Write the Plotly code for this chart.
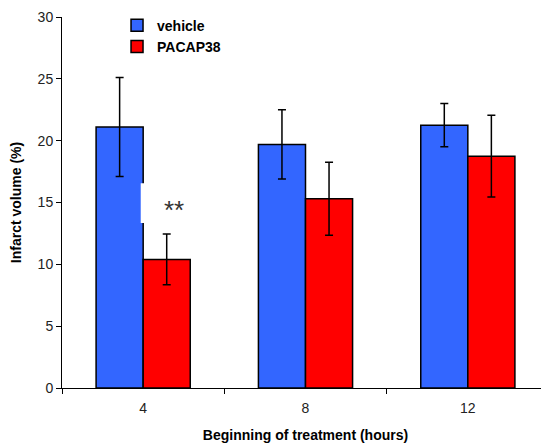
import plotly.graph_objects as go

categories = ["4", "8", "12"]
vehicle = [21.1, 19.7, 21.25]
vehicle_err = [4.0, 2.8, 1.75]
pacap = [10.4, 15.3, 18.75]
pacap_err = [2.05, 2.95, 3.3]

font = "Liberation Sans, Arial, sans-serif"

fig = go.Figure()
fig.add_trace(go.Bar(
    name="vehicle", x=categories, y=vehicle,
    marker=dict(color="#3366FF", line=dict(color="black", width=1.5)),
    error_y=dict(type="data", array=vehicle_err, color="black", thickness=1.5, width=4),
))
fig.add_trace(go.Bar(
    name="PACAP38", x=categories, y=pacap,
    marker=dict(color="#FF0000", line=dict(color="black", width=1.5)),
    error_y=dict(type="data", array=pacap_err, color="black", thickness=1.5, width=4),
))

# white box behind the significance marker
fig.add_shape(type="rect", xref="x", yref="y", x0=-0.015, x1=0.42, y0=13.35, y1=16.55,
              fillcolor="white", line=dict(width=0), layer="above")
fig.add_annotation(x=0.19, y=14.4, xref="x", yref="y", text="**", showarrow=False,
                   font=dict(family=font, size=26, color="#333"))

fig.update_layout(
    width=541, height=435,
    margin=dict(l=54, r=0, t=9, b=55, autoexpand=False),
    paper_bgcolor="white", plot_bgcolor="white",
    barmode="group", bargap=0.42, bargroupgap=0,
    font=dict(family=font, size=14, color="#222"),
    showlegend=True,
    legend=dict(x=0.113, y=1.02, xanchor="left", yanchor="top",
                font=dict(family=font, size=14, color="black", weight="bold"),
                bgcolor="rgba(0,0,0,0)", itemwidth=30, tracegroupgap=0),
)
fig.update_xaxes(
    type="category", showline=True, linecolor="black", linewidth=1,
    ticks="outside", tickson="boundaries", ticklen=5, tickcolor="black",
    title=dict(text="<b>Beginning of treatment (hours)</b>", font=dict(size=14, color="black")),
    tickfont=dict(size=14, color="#222"), automargin=False, ticklabelstandoff=7,
)
fig.update_yaxes(
    range=[0, 30], dtick=5, showline=True, linecolor="black", linewidth=1,
    ticks="outside", ticklen=5, tickcolor="black", showgrid=False, zeroline=False,
    title=dict(text="<b>Infarct volume (%)</b>", font=dict(size=14, color="black")),
    tickfont=dict(size=14, color="#222"), automargin=False,
)

fig.write_html("out.html")
